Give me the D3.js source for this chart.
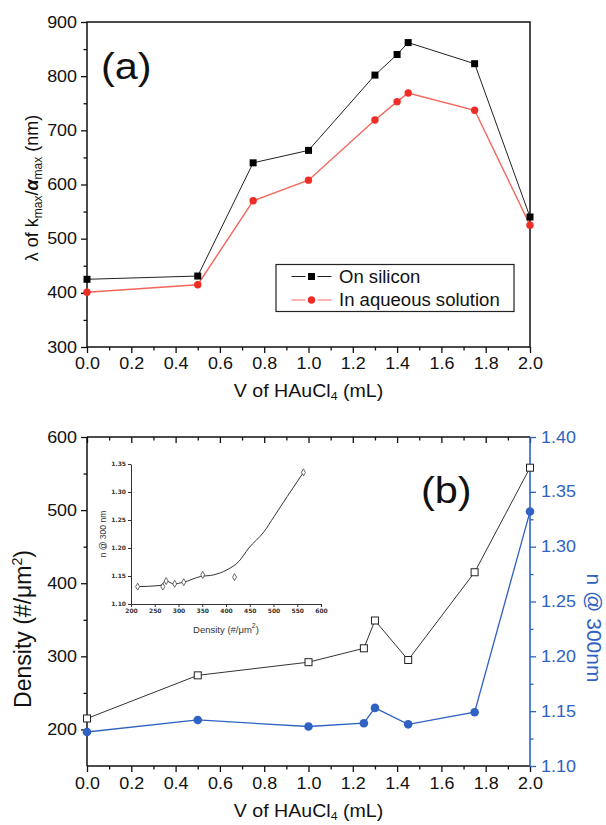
<!DOCTYPE html>
<html><head><meta charset="utf-8">
<script src="https://cdn.jsdelivr.net/npm/d3@7"></script>
<style>body{margin:0;background:#fff}svg{display:block}</style>
</head><body>
<svg id="c" width="606" height="825"></svg>
<script>
// ---------- data ----------
const volA = [0, 0.5, 0.75, 1.0, 1.3, 1.4, 1.45, 1.75, 2.0];
const onSilicon = [425, 431, 640, 663, 802, 840, 862, 823, 540];
const aqueous = [401, 415, 570, 608, 719, 753, 769, 737, 525];
const volB = [0, 0.5, 1.0, 1.25, 1.3, 1.45, 1.75, 2.0];
const density = [215, 274, 292, 311, 349, 295, 415, 558];
const nIndex = [1.131, 1.142, 1.136, 1.139, 1.153, 1.138, 1.149, 1.332];
const insetDensity = [214, 267, 274, 292, 311, 351, 418, 563];
const insetN = [1.131, 1.131, 1.141, 1.136, 1.139, 1.152, 1.148, 1.335];
const fitDensity = [214, 261, 274, 290, 311, 346, 374, 402, 427, 448, 480, 501, 529, 563];
const fitN = [1.131, 1.133, 1.141, 1.136, 1.139, 1.149, 1.152, 1.161, 1.176, 1.200, 1.229, 1.256, 1.292, 1.335];
const xMajor = [0, 0.2, 0.4, 0.6, 0.8, 1.0, 1.2, 1.4, 1.6, 1.8, 2.0];
const xMinor = [0.1, 0.3, 0.5, 0.7, 0.9, 1.1, 1.3, 1.5, 1.7, 1.9];
const xLabels = ["0.0","0.2","0.4","0.6","0.8","1.0","1.2","1.4","1.6","1.8","2.0"];
const yAMajor = [300, 400, 500, 600, 700, 800, 900];
const yAMinor = [350, 450, 550, 650, 750, 850];
const yBMajor = [200, 300, 400, 500, 600];
const yBMinor = [250, 350, 450, 550];
const yRMajor = [1.10, 1.15, 1.20, 1.25, 1.30, 1.35, 1.40];
const yRMinor = [1.125, 1.175, 1.225, 1.275, 1.325, 1.375];
const insXTicks = [200, 250, 300, 350, 400, 450, 500, 550, 600];
const insYTicks = [1.10, 1.15, 1.20, 1.25, 1.30, 1.35];

// ---------- setup ----------
const FONT = '"Liberation Sans", Arial, Helvetica, sans-serif';
const SX = 1.12;
const BLUE = "#2f62c2";
const RED = "#ee2e26";
const svg = d3.select("#c").attr("font-family", FONT);
const X0 = 87, X1 = 530;
const x = d3.scaleLinear().domain([0, 2]).range([X0, X1]);
const yA = d3.scaleLinear().domain([300, 900]).range([347, 22]);
const yB = d3.scaleLinear().domain([150, 600]).range([766, 437]);
const yR = d3.scaleLinear().domain([1.10, 1.40]).range([766, 437]);

function styleAxis(g, color, fs, sx) {
  g.select(".domain").remove();
  g.selectAll(".tick line").attr("stroke", color).attr("stroke-width", 1.3);
  g.selectAll(".tick text").attr("fill", color).attr("font-size", fs).attr("font-family", FONT)
    .each(function () {
      const t = d3.select(this);
      const tx = +t.attr("x") || 0;
      t.attr("x", 0).attr("transform", `translate(${tx},0) scale(${sx},1)`);
    });
}
function addAxis(parent, axis, tr, color, fs, sx) {
  const g = parent.append("g").attr("transform", tr).call(axis);
  styleAxis(g, color, fs, sx);
  return g;
}

// ---------- panel (a) ----------
const gA = svg.append("g");
addAxis(gA, d3.axisLeft(yA).tickValues(yAMajor).tickSize(6).tickPadding(4).tickFormat(d3.format("d")), `translate(${X0},0)`, "#111", 16, SX);
addAxis(gA, d3.axisLeft(yA).tickValues(yAMinor).tickSize(3.5).tickFormat(""), `translate(${X0},0)`, "#111", 16, SX);
addAxis(gA, d3.axisBottom(x).tickValues(xMajor).tickSize(6).tickPadding(5).tickFormat((d, i) => xLabels[i]), `translate(0,${yA(300)})`, "#111", 16, SX);
addAxis(gA, d3.axisBottom(x).tickValues(xMinor).tickSize(3.5).tickFormat(""), `translate(0,${yA(300)})`, "#111", 16, SX);
gA.append("rect").attr("x", X0).attr("y", yA(900)).attr("width", X1 - X0).attr("height", yA(300) - yA(900))
  .attr("fill", "none").attr("stroke", "#111").attr("stroke-width", 1.5);

const lineA = d3.line().x(d => x(d[0])).y(d => yA(d[1]));
const silPts = volA.map((v, i) => [v, onSilicon[i]]);
const aqPts = volA.map((v, i) => [v, aqueous[i]]);
gA.append("path").attr("d", lineA(aqPts)).attr("fill", "none").attr("stroke", "#f4665c").attr("stroke-width", 1.4);
gA.append("path").attr("d", lineA(silPts)).attr("fill", "none").attr("stroke", "#222").attr("stroke-width", 1);
gA.selectAll(".sq").data(silPts).join("rect").attr("x", d => x(d[0]) - 3.5).attr("y", d => yA(d[1]) - 3.5)
  .attr("width", 7).attr("height", 7).attr("fill", "#000");
gA.selectAll(".rc").data(aqPts).join("circle").attr("cx", d => x(d[0])).attr("cy", d => yA(d[1])).attr("r", 3.7).attr("fill", RED);

// legend
const lg = gA.append("g");
lg.append("rect").attr("x", 276).attr("y", 264.5).attr("width", 238).attr("height", 47)
  .attr("fill", "#fff").attr("stroke", "#222").attr("stroke-width", 1.2);
[[276.5, "#222", "sq", "On silicon"], [300, "#f4665c", "ci", "In aqueous solution"]].forEach(([yy, col, m, label]) => {
  lg.append("line").attr("x1", 291.5).attr("x2", 331.5).attr("y1", yy).attr("y2", yy).attr("stroke", col).attr("stroke-width", 1.2);
  lg.append("rect").attr("x", 305.5).attr("y", yy - 6).attr("width", 12).attr("height", 12).attr("fill", "#fff");
  if (m === "sq") lg.append("rect").attr("x", 308).attr("y", yy - 3.5).attr("width", 7).attr("height", 7).attr("fill", "#000");
  else lg.append("circle").attr("cx", 311.5).attr("cy", yy).attr("r", 3.7).attr("fill", RED);
  lg.append("text").attr("transform", `translate(339,${yy + 6}) scale(1.06,1)`).attr("font-size", 17.5).attr("fill", "#111").text(label);
});

gA.append("text").attr("transform", `translate(101,79) scale(${SX},1)`).attr("font-size", 37).attr("fill", "#111").text("(a)");

// y title (a)
const ta = svg.append("text").attr("transform", "translate(38,188) rotate(-90)").attr("text-anchor", "middle")
  .attr("font-size", 18).attr("fill", "#111");
ta.append("tspan").text("λ of k");
ta.append("tspan").attr("font-size", 12).attr("dy", 4).text("max");
ta.append("tspan").attr("dy", -4).text("/");
ta.append("tspan").attr("font-style", "italic").attr("font-weight", "bold").text("α");
ta.append("tspan").attr("font-size", 12).attr("dy", 4).text("max");
ta.append("tspan").attr("dy", -4).text(" (nm)");

function xTitle(yb) {
  const t = svg.append("text").attr("transform", `translate(${(X0 + X1) / 2},${yb}) scale(${SX},1)`)
    .attr("text-anchor", "middle").attr("font-size", 17.5).attr("fill", "#111");
  t.append("tspan").text("V of HAuCl");
  t.append("tspan").attr("font-size", 11).attr("dy", 3).text("4");
  t.append("tspan").attr("dy", -3).text(" (mL)");
}
xTitle(397);

// ---------- panel (b) ----------
const gB = svg.append("g");
addAxis(gB, d3.axisLeft(yB).tickValues(yBMajor).tickSize(6).tickPadding(4).tickFormat(d3.format("d")), `translate(${X0},0)`, "#111", 16, SX);
addAxis(gB, d3.axisLeft(yB).tickValues(yBMinor).tickSize(3.5).tickFormat(""), `translate(${X0},0)`, "#111", 16, SX);
addAxis(gB, d3.axisBottom(x).tickValues(xMajor).tickSize(6).tickPadding(6).tickFormat((d, i) => xLabels[i]), `translate(0,766)`, "#111", 16, SX);
addAxis(gB, d3.axisBottom(x).tickValues(xMinor).tickSize(3.5).tickFormat(""), `translate(0,766)`, "#111", 16, SX);
addAxis(gB, d3.axisTop(x).tickValues(xMajor).tickSize(-6).tickFormat(""), `translate(0,437)`, "#111", 16, SX);
addAxis(gB, d3.axisTop(x).tickValues(xMinor).tickSize(-3.5).tickFormat(""), `translate(0,437)`, "#111", 16, SX);
addAxis(gB, d3.axisRight(yR).tickValues(yRMajor).tickSize(6).tickPadding(5).tickFormat(d3.format(".2f")), `translate(${X1},0)`, BLUE, 16, SX);
addAxis(gB, d3.axisRight(yR).tickValues(yRMinor).tickSize(3.5).tickFormat(""), `translate(${X1},0)`, BLUE, 16, SX);
gB.append("line").attr("x1", X0).attr("x2", X1).attr("y1", 437).attr("y2", 437).attr("stroke", "#111").attr("stroke-width", 1.5);
gB.append("line").attr("x1", X0).attr("x2", X1).attr("y1", 766).attr("y2", 766).attr("stroke", "#111").attr("stroke-width", 1.5);
gB.append("line").attr("x1", X0).attr("x2", X0).attr("y1", 437).attr("y2", 766).attr("stroke", "#111").attr("stroke-width", 1.5);
gB.append("line").attr("x1", X1).attr("x2", X1).attr("y1", 437).attr("y2", 766).attr("stroke", BLUE).attr("stroke-width", 1.6);

const denPts = volB.map((v, i) => [v, density[i]]);
const nPts = volB.map((v, i) => [v, nIndex[i]]);
gB.append("path").attr("d", d3.line().x(d => x(d[0])).y(d => yR(d[1]))(nPts)).attr("fill", "none").attr("stroke", BLUE).attr("stroke-width", 1.3);
gB.append("path").attr("d", d3.line().x(d => x(d[0])).y(d => yB(d[1]))(denPts)).attr("fill", "none").attr("stroke", "#333").attr("stroke-width", 1);
gB.selectAll(".os").data(denPts).join("rect").attr("x", d => x(d[0]) - 3.5).attr("y", d => yB(d[1]) - 3.5)
  .attr("width", 7).attr("height", 7).attr("fill", "#fff").attr("stroke", "#222").attr("stroke-width", 1);
gB.selectAll(".bc").data(nPts).join("circle").attr("cx", d => x(d[0])).attr("cy", d => yR(d[1])).attr("r", 4.3).attr("fill", BLUE);

gB.append("text").attr("transform", `translate(421,503) scale(${SX},1)`).attr("font-size", 37).attr("fill", "#111").text("(b)");

const td = svg.append("text").attr("transform", "translate(31,629) rotate(-90)").attr("text-anchor", "middle")
  .attr("font-size", 23).attr("fill", "#111");
td.append("tspan").text("Density (#/μm");
td.append("tspan").attr("font-size", 14).attr("dy", -9).text("2");
td.append("tspan").attr("dy", 9).text(")");

svg.append("text").attr("transform", "translate(587,628) rotate(90)").attr("text-anchor", "middle")
  .attr("font-size", 21).attr("fill", BLUE).text("n @ 300nm");
xTitle(817);

// ---------- inset ----------
const xi = d3.scaleLinear().domain([200, 600]).range([131, 321]);
const yi = d3.scaleLinear().domain([1.10, 1.35]).range([604, 464]);
const gI = svg.append("g");
const insFont = '"DejaVu Sans", sans-serif';
function styleInset(g) {
  g.select(".domain").attr("stroke", "#333").attr("stroke-width", 1);
  g.selectAll(".tick line").attr("stroke", "#333").attr("stroke-width", 1);
  g.selectAll(".tick text").attr("fill", "#333").attr("font-size", 6).attr("font-weight", "bold").attr("font-family", insFont);
}
gI.append("g").attr("transform", "translate(0,604)")
  .call(d3.axisBottom(xi).tickValues(insXTicks).tickSize(3).tickPadding(2).tickSizeOuter(0).tickFormat(d3.format("d"))).call(styleInset);
gI.append("g").attr("transform", "translate(131,0)")
  .call(d3.axisLeft(yi).tickValues(insYTicks).tickSize(3).tickPadding(2).tickSizeOuter(0).tickFormat(d3.format(".2f"))).call(styleInset);
const fitPts = fitDensity.map((d, i) => [d, fitN[i]]);
gI.append("path").attr("d", d3.line().curve(d3.curveMonotoneX).x(d => xi(d[0])).y(d => yi(d[1]))(fitPts))
  .attr("fill", "none").attr("stroke", "#333").attr("stroke-width", 1);
gI.selectAll(".dm").data(insetDensity.map((d, i) => [d, insetN[i]])).join("path")
  .attr("transform", d => `translate(${xi(d[0])},${yi(d[1])})`)
  .attr("d", d3.symbol().type(d3.symbolDiamond).size(14)).attr("fill", "#fff").attr("stroke", "#444").attr("stroke-width", 0.8);
const tix = gI.append("text").attr("x", 226).attr("y", 633).attr("text-anchor", "middle").attr("font-size", 9.5).attr("fill", "#333");
tix.append("tspan").text("Density (#/μm");
tix.append("tspan").attr("font-size", 7).attr("dy", -5).text("2");
tix.append("tspan").attr("dy", 5).text(")");
gI.append("text").attr("transform", "translate(106,534) rotate(-90)").attr("text-anchor", "middle")
  .attr("font-size", 8.5).attr("fill", "#333").text("n @ 300 nm");
</script>
</body></html>
